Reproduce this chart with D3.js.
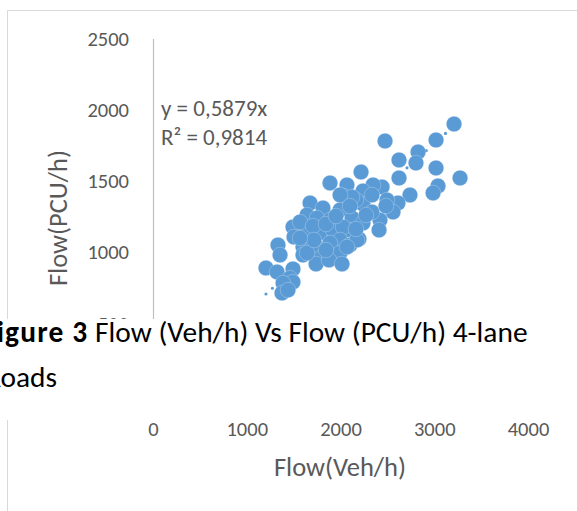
<!DOCTYPE html>
<html>
<head>
<meta charset="utf-8">
<script src="https://cdn.jsdelivr.net/npm/d3@7"></script>
<style>
  html, body { margin: 0; padding: 0; background: #fff; overflow: hidden; }
  #chart-holder { width: 577px; height: 511px; }
  .axis text { font-family: Carlito, Calibri, Lato, sans-serif; font-size: 20.5px; fill: #595959; }
</style>
</head>
<body>
<div id="chart-holder"></div>
<script>
// Flow (Veh/h) vs Flow (PCU/h), 4-lane roads
var vehFlow = [3211, 2475, 3019, 2827, 2805, 2624, 3019, 3275, 2624, 3040,
               2987, 2741, 2443, 2347, 2219, 1888, 2069, 2027, 2240, 2613,
               2560, 2421, 2411, 2197, 1675, 1813, 1995, 2240, 2336, 2123,
               2240, 2101, 1643, 1749, 1888, 1493, 1504, 1643, 1781, 1920,
               2027, 1995, 1600, 1749, 1888, 1333, 1355, 1600, 1749, 1888,
               1995, 1739, 1877, 2016, 1205, 1323, 1493, 1461, 1493, 1387,
               1376, 1440, 2496, 2165, 2123, 2101, 2176, 1707, 1643, 1995,
               2336, 1568, 1707, 1845, 1952, 1717, 1845, 2069, 2165, 2272,
               2485, 2101, 1568];
var pcuFlow = [1900, 1781, 1788, 1704, 1627, 1648, 1592, 1522, 1522, 1466,
               1417, 1403, 1459, 1473, 1564, 1487, 1473, 1396, 1431, 1346,
               1283, 1227, 1157, 1094, 1346, 1311, 1297, 1339, 1283, 1241,
               1206, 1157, 1262, 1241, 1227, 1178, 1108, 1136, 1136, 1157,
               1178, 1087, 1038, 1038, 1066, 1052, 982, 982, 996, 961,
               996, 919, 947, 919, 891, 863, 884, 820, 792, 785,
               715, 736, 1367, 1367, 1388, 1052, 1087, 1052, 996, 1403,
               1403, 1213, 1185, 1199, 1255, 1087, 1017, 1038, 1164, 1262,
               1325, 1325, 1101];

var xTicks = [0, 1000, 2000, 3000, 4000];
var yTicks = [0, 500, 1000, 1500, 2000, 2500];
var slope = 0.5879;
var eqLines = ["y = 0,5879x", "R² = 0,9814"];

var width = 577, height = 511;
var font = "Carlito, Calibri, Lato, sans-serif";

var svg = d3.select("#chart-holder")
  .append("svg")
  .attr("width", width)
  .attr("height", height);

// chart area border
svg.append("path")
  .attr("d", "M7.5," + (height + 2) + "V10.5H" + (width + 2))
  .attr("fill", "none")
  .attr("stroke", "#d9d9d9")
  .attr("stroke-width", 1);

var x = d3.scaleLinear().domain([0, 4000]).range([153, 528]);
var y = d3.scaleLinear().domain([0, 2500]).range([395, 38.5]);

// axes
var yAxis = svg.append("g")
  .attr("class", "axis")
  .attr("transform", "translate(153,0)")
  .call(d3.axisLeft(y).tickValues(yTicks).tickFormat(d3.format("d")).tickSize(0).tickPadding(24));
yAxis.select(".domain").attr("stroke", "#bfbfbf").attr("stroke-width", 1.2);

var xAxis = svg.append("g")
  .attr("class", "axis")
  .attr("transform", "translate(0,395)")
  .call(d3.axisBottom(x).tickValues(xTicks).tickFormat(d3.format("d")).tickSize(0).tickPadding(26));
xAxis.select(".domain").attr("stroke", "#bfbfbf");

// axis titles
svg.append("text")
  .attr("transform", "translate(58,218) rotate(-90)")
  .attr("text-anchor", "middle")
  .attr("dy", "0.35em")
  .style("font-family", font).style("font-size", "26.5px")
  .attr("fill", "#595959")
  .text("Flow(PCU/h)");

svg.append("text")
  .attr("x", 340).attr("y", 467)
  .attr("text-anchor", "middle")
  .attr("dy", "0.35em")
  .style("font-family", font).style("font-size", "26.5px")
  .attr("fill", "#595959")
  .text("Flow(Veh/h)");

// trendline (round dots), through origin
var xMin = d3.min(vehFlow), xMax = d3.max(vehFlow);
svg.append("line")
  .attr("x1", x(xMin)).attr("y1", y(slope * xMin))
  .attr("x2", x(xMax)).attr("y2", y(slope * xMax))
  .attr("stroke", "#5b9bd5")
  .attr("stroke-width", 3.2)
  .attr("stroke-linecap", "round")
  .attr("stroke-dasharray", "0 8.6");

// points
svg.append("g")
  .selectAll("circle")
  .data(vehFlow.map(function(v, i) { return [v, pcuFlow[i]]; }))
  .enter()
  .append("circle")
  .attr("cx", function(d) { return x(d[0]); })
  .attr("cy", function(d) { return y(d[1]); })
  .attr("r", 7.8)
  .attr("fill", "#5b9bd5")
  .attr("stroke", "#ffffff")
  .attr("stroke-opacity", 0.4)
  .attr("stroke-width", 0.6);

// trendline label
svg.append("g")
  .selectAll("text")
  .data(eqLines)
  .enter()
  .append("text")
  .attr("x", 161)
  .attr("y", function(d, i) { return 108 + i * 29; })
  .attr("dy", "0.35em")
  .style("font-family", font).style("font-size", "23px")
  .attr("fill", "#595959")
  .text(function(d) { return d; });

// document caption laid over the chart
svg.append("rect")
  .attr("x", 0).attr("y", 319)
  .attr("width", width).attr("height", 101)
  .attr("fill", "#fff");

var cap = svg.append("text")
  .attr("x", -18).attr("y", 342)
  .style("font-family", font).style("font-size", "29.4px")
  .attr("fill", "#000");
cap.append("tspan").attr("font-weight", "bold").attr("letter-spacing", "1.2px").text("Figure 3");
cap.append("tspan").text(" Flow (Veh/h) Vs Flow (PCU/h) 4-lane");

svg.append("text")
  .attr("x", 57).attr("y", 387)
  .attr("text-anchor", "end")
  .style("font-family", font).style("font-size", "29.4px")
  .attr("fill", "#000")
  .text("Roads");
</script>
</body>
</html>
